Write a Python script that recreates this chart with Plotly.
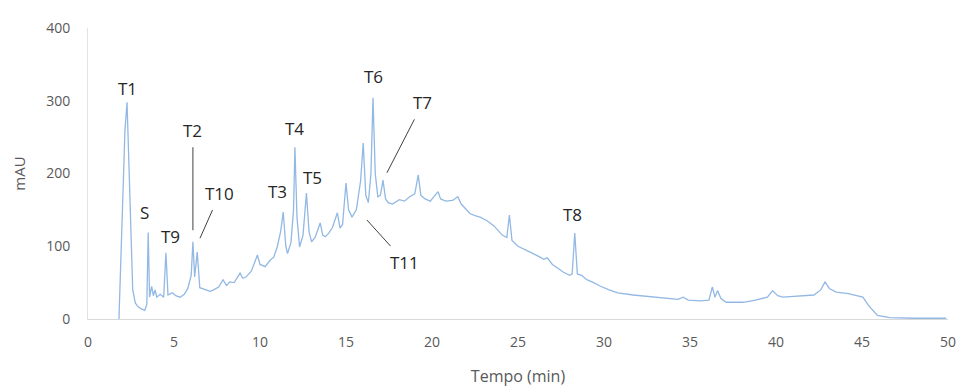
import plotly.graph_objects as go

# Retention time (min) and absorbance (mAU)
time_min = [1.8, 1.85, 2.0, 2.15, 2.27, 2.4, 2.5, 2.6, 2.75, 2.9, 3.1, 3.3, 3.42, 3.5, 3.58,
            3.7, 3.8, 3.9, 4.0, 4.2, 4.4, 4.53, 4.65, 4.9, 5.1, 5.35, 5.6, 5.8, 6.0, 6.1,
            6.2, 6.35, 6.5, 6.8, 7.1, 7.3, 7.6, 7.85, 8.05, 8.25, 8.5, 8.84, 9.0, 9.2, 9.5,
            9.85, 10.0, 10.3, 10.6, 10.8, 11.0, 11.2, 11.35, 11.5, 11.6, 11.8, 11.95, 12.03, 12.15,
            12.3, 12.5, 12.7, 12.85, 13.0, 13.2, 13.5, 13.65, 13.8, 14.0, 14.2, 14.5, 14.65, 14.8,
            15.0, 15.15, 15.35, 15.6, 15.85, 16.0, 16.15, 16.3, 16.45, 16.57, 16.7, 16.85, 17.0,
            17.15, 17.3, 17.45, 17.7, 18.1, 18.4, 18.7, 19.0, 19.2, 19.35, 19.6, 19.9, 20.1, 20.35,
            20.5, 20.8, 21.2, 21.5, 21.7, 22.2, 22.5, 22.8, 23.2, 23.6, 24.1, 24.35, 24.5, 24.65,
            25.0, 25.4, 25.7, 26.2, 26.5, 26.7, 27.0, 27.3, 27.6, 28.0, 28.15, 28.3, 28.45, 28.7,
            29.0, 29.4, 29.8, 30.3, 30.8, 31.7, 32.5, 33.5, 34.3, 34.6, 34.9, 35.6, 36.1, 36.3,
            36.45, 36.6, 36.8, 37.1, 38.1, 38.8, 39.5, 39.8, 40.1, 40.4, 41.2, 42.2, 42.6, 42.85,
            43.1, 43.5, 44.2, 45.05, 45.4, 45.9, 46.6, 48.0, 49.9]
absorbance_mau = [0, 40, 150, 260, 298, 200, 110, 40, 22, 17, 14, 12, 20, 119, 30,
                  45, 32, 40, 30, 34, 30, 91, 33, 36, 32, 30, 34, 42, 60, 106,
                  58, 92, 43, 40, 38, 40, 44, 54, 46, 51, 50, 63, 56, 58, 66,
                  88, 75, 72, 81, 85, 99, 120, 147, 100, 90, 105, 150, 236, 140,
                  99, 115, 173, 120, 106, 112, 132, 115, 113, 118, 125, 146, 125, 130,
                  187, 150, 140, 150, 190, 242, 170, 160, 200, 304, 200, 168, 170,
                  191, 165, 160, 158, 164, 162, 168, 172, 198, 170, 165, 162, 168, 175,
                  165, 162, 163, 168, 158, 145, 142, 140, 135, 128, 115, 112, 143, 108,
                  100, 96, 92, 86, 82, 84, 75, 70, 65, 60, 62, 118, 62, 60,
                  54, 50, 45, 40, 36, 33, 31, 28, 27, 30, 26, 25, 26, 44,
                  30, 39, 28, 23, 23, 26, 30, 39, 32, 30, 31, 33, 40, 51,
                  42, 37, 35, 30, 18, 5, 2, 1, 1]

x_ticks = [0, 5, 10, 15, 20, 25, 30, 35, 40, 45, 50]
y_ticks = [0, 100, 200, 300, 400]

# Peak labels (text, time, mAU position of the label)
plain_labels = ["T1", "S", "T9", "T3", "T4", "T5", "T6", "T8"]
plain_label_t = [2.27, 3.31, 4.77, 10.99, 12.03, 13.08, 16.57, 28.14]
plain_label_v = [317, 146, 113, 175, 262, 195, 333, 143]

# Labels with a leader line (text, tip time, tip mAU, text offset px)
leader_labels = ["T2", "T10", "T7", "T11"]
leader_tip_t = [6.1, 6.51, 17.38, 16.22]
leader_tip_v = [122, 111, 201, 136]
leader_ax = [0, 20, 36, 38]
leader_ay = [-100, -45, -70, 42]

FONT = "Open Sans, Lato, sans-serif"

fig = go.Figure()
fig.add_trace(go.Scatter(
    x=time_min, y=absorbance_mau, mode="lines",
    line=dict(color="#92B8E4", width=1.3),
    hoverinfo="x+y", showlegend=False,
))

annotations = []
for txt, t, v in zip(plain_labels, plain_label_t, plain_label_v):
    annotations.append(dict(x=t, y=v, xref="x", yref="y", text=txt, showarrow=False,
                            font=dict(family=FONT, size=17, color="#262626")))
for txt, t, v, ax, ay in zip(leader_labels, leader_tip_t, leader_tip_v, leader_ax, leader_ay):
    annotations.append(dict(x=t, y=v, xref="x", yref="y", text=txt, showarrow=True,
                            arrowhead=0, arrowwidth=1, arrowcolor="#404040",
                            ax=ax, ay=ay, startstandoff=4,
                            font=dict(family=FONT, size=17, color="#262626")))

fig.update_layout(
    width=963, height=387,
    margin=dict(l=88, r=15, t=28, b=68),
    paper_bgcolor="white", plot_bgcolor="white",
    font=dict(family=FONT, color="#595959", size=14),
    annotations=annotations,
    xaxis=dict(
        range=[0, 50], tickvals=x_ticks, showgrid=False, zeroline=False,
        showline=True, linecolor="#D9D9D9", linewidth=1, ticks="",
        ticklabelstandoff=10, automargin=False,
        tickfont=dict(family=FONT, size=14, color="#595959"),
        title=dict(text="Tempo (min)", font=dict(family=FONT, size=16, color="#595959"),
                   standoff=24),
    ),
    yaxis=dict(
        range=[0, 400], tickvals=y_ticks, showgrid=False, zeroline=False,
        showline=True, linecolor="#E3E3E3", linewidth=1, ticks="",
        ticklabelstandoff=14, automargin=False,
        tickfont=dict(family=FONT, size=14, color="#595959"),
        title=dict(text="mAU", font=dict(family=FONT, size=15, color="#595959"),
                   standoff=16),
    ),
)

fig.write_html("out.html", config={"displayModeBar": False},
               post_script="document.body.style.margin='0';document.body.style.padding='0';")
